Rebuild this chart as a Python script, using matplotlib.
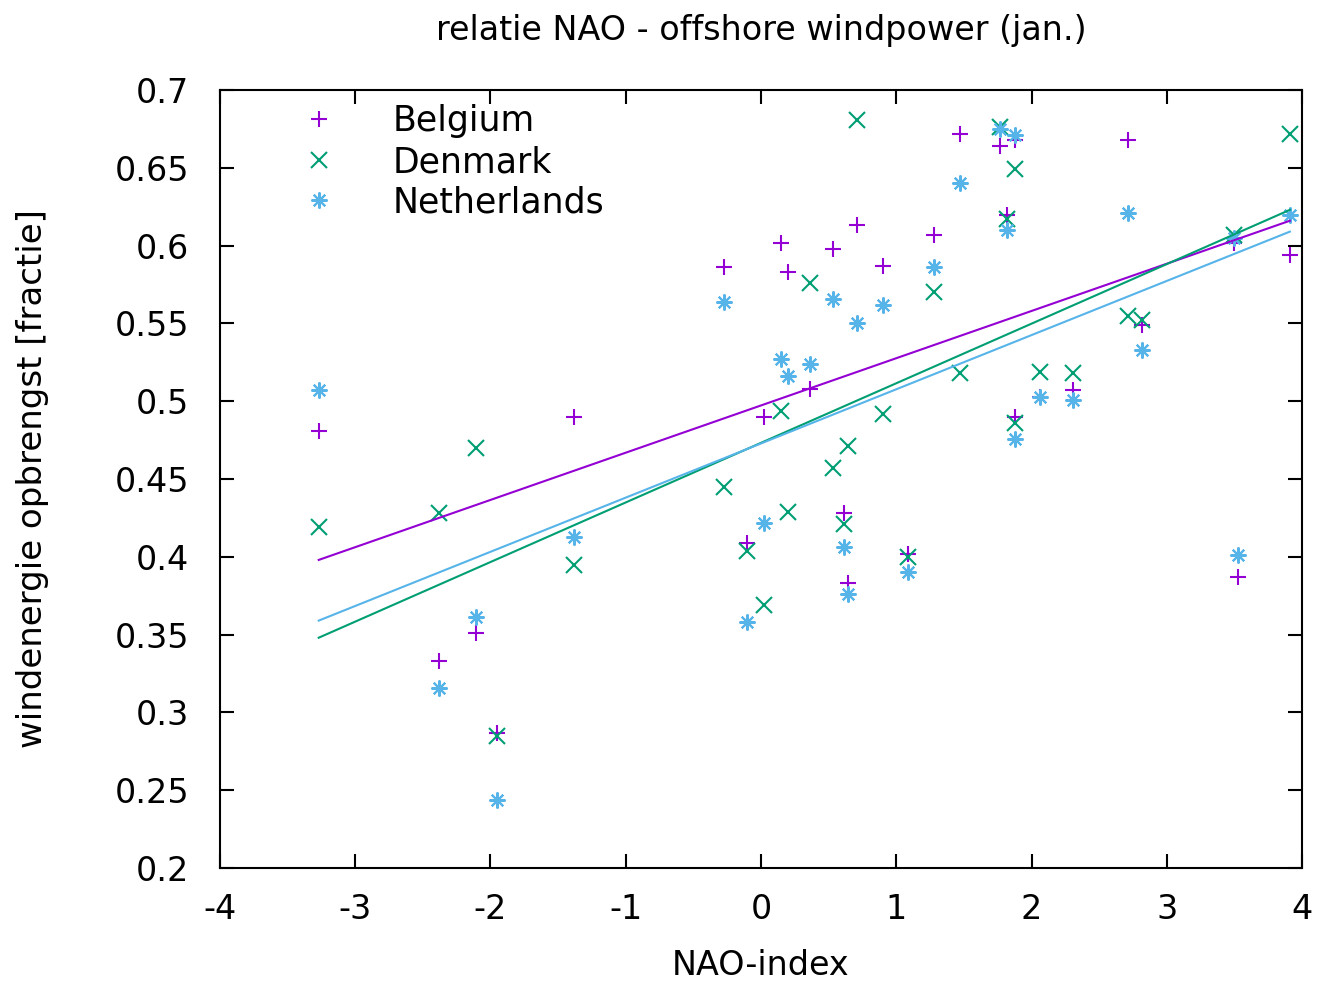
import matplotlib
matplotlib.use('Agg')
from matplotlib import pyplot as plt
from matplotlib.ticker import FuncFormatter, MultipleLocator

plt.rcParams['axes.unicode_minus'] = False

# NAO index per year
nao = [-3.27, -2.38, -2.11, -1.95, -1.38, -0.27, -0.10, 0.02, 0.15, 0.20,
       0.36, 0.53, 0.61, 0.64, 0.71, 0.90, 1.09, 1.28, 1.47, 1.77,
       1.82, 1.88, 1.88, 2.06, 2.31, 2.71, 2.82, 3.50, 3.53, 3.91]

belgium = [0.481, 0.333, 0.351, 0.287, 0.490, 0.586, 0.409, 0.490, 0.602, 0.583,
           0.508, 0.598, 0.428, 0.383, 0.613, 0.587, 0.402, 0.607, 0.672, 0.664,
           0.620, 0.668, 0.490, 0.503, 0.507, 0.668, 0.549, 0.602, 0.387, 0.594]

denmark = [0.419, 0.428, 0.470, 0.285, 0.395, 0.445, 0.404, 0.369, 0.494, 0.429,
           0.576, 0.457, 0.421, 0.471, 0.681, 0.492, 0.400, 0.570, 0.518, 0.676,
           0.617, 0.649, 0.486, 0.519, 0.518, 0.555, 0.552, 0.607, None, 0.672]

netherlands = [0.507, 0.316, 0.361, 0.244, 0.413, 0.564, 0.358, 0.422, 0.527, 0.516,
               0.524, 0.566, 0.406, 0.376, 0.550, 0.562, 0.390, 0.586, 0.640, 0.675,
               0.610, 0.671, 0.476, 0.503, 0.501, 0.621, 0.533, 0.605, 0.401, 0.620]

# fitted trend lines, end points
fit_x = [-3.27, 3.91]
fit_belgium = [0.398, 0.616]
fit_denmark = [0.348, 0.623]
fit_netherlands = [0.359, 0.609]

series = [
    ('Belgium', belgium, fit_belgium, '#9400D3', '+'),
    ('Denmark', denmark, fit_denmark, '#009E73', 'x'),
    ('Netherlands', netherlands, fit_netherlands, '#56B4E9', (8, 2, 0)),
]

fig = plt.figure(figsize=(13.18, 9.83), dpi=100)
ax = fig.add_axes([0.1669, 0.117, 0.821, 0.7914])

for name, vals, fit, col, mk in series:
    xs = [x for x, v in zip(nao, vals) if v is not None]
    ys = [v for v in vals if v is not None]
    ax.plot(xs, ys, linestyle='none', marker=mk, markersize=11.5, markeredgewidth=1.5,
            color=col, label=name)
for name, vals, fit, col, mk in series:
    ax.plot(fit_x, fit, color=col, linewidth=1.5)

ax.set_xlim(-4, 4)
ax.set_ylim(0.2, 0.7)
ax.xaxis.set_major_locator(MultipleLocator(1))
ax.yaxis.set_major_locator(MultipleLocator(0.05))
ax.yaxis.set_major_formatter(FuncFormatter(lambda v, p: '%g' % round(v, 2)))
ax.tick_params(direction='in', length=10, width=1.5, top=True, right=True,
               labelsize=24)
ax.tick_params(axis='x', pad=18)
ax.tick_params(axis='y', pad=22)
for s in ax.spines.values():
    s.set_linewidth(1.5)

ax.set_xlabel('NAO-index', fontsize=24)
ax.xaxis.set_label_coords(0.5, -0.104)
ax.set_ylabel('windenergie opbrengst [fractie]', fontsize=24.5)
ax.yaxis.set_label_coords(-0.158, 0.5)
ax.set_title('relatie NAO - offshore windpower (jan.)', fontsize=24, y=1.064, pad=0)

ax.legend(loc='upper left', bbox_to_anchor=(0.0466, 1.0217), frameon=False, fontsize=25,
          handlelength=1.0, handletextpad=1.63, labelspacing=0.19, numpoints=1)

fig.savefig('out.png', dpi=100)
